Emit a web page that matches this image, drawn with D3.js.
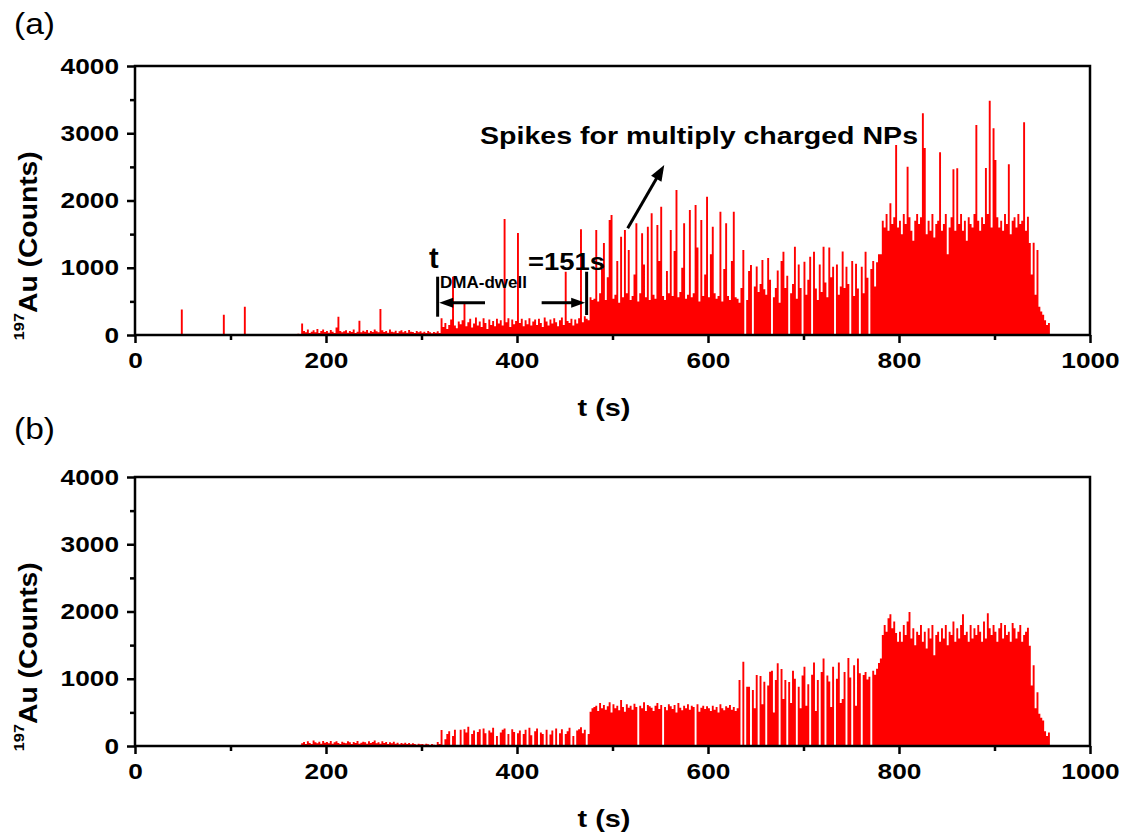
<!DOCTYPE html>
<html lang="en">
<head>
<meta charset="utf-8">
<title>197Au counts vs time</title>
<style>
  body { margin: 0; background: #fff; }
  svg { display: block; font-family: "Liberation Sans", Arial, sans-serif; }
</style>
</head>
<body>
<svg id="chart" width="1130" height="839"></svg>
<script src="https://d3js.org/d3.v7.min.js"></script>
<script>
const binSize = 2; // seconds per bar

// panel (a): counts per 2 s bin
const a000 = [10,5,0,8,12,0,6,10,4,0, 8,0,12,6,0,10,4,8,0,6, 10,4,0,8,380,6,0,12,4,8, 0,6,10,0,8,4,12,0,6,10,
  4,0,8,12,6,0,300,10,4,8, 6,12,0,8,4,0,10,420,6,0, 8,10,4,0,12,6,8,0,10,4, 6,0,12,8,4,10,0,6,8,12,
  4,10,0,8,12,20,10,170,60,40, 80,30,50,70,40,90,30,60,80,45];
const a200 = [60,35,75,50,30,110,272,60,40,55, 70,35,60,45,80,30,50,213,40,65, 50,75,35,60,45,80,55,40,387,70,
  45,60,35,80,50,40,65,30,55,70, 40,60,35,75,50,45,30,60,40,55, 35,50,30,60,40,25,45,35,55,30,
  250,120,180,90,150,230,867,140,100,200, 160,220,476,130,190,240,110,170,260,140,
  200,120,250,180,90,230,150,210,130,240, 170,220,140,1725,190,250,120,230,160,210];
const a400 = [1516,180,240,130,220,160,250,140,200,230, 150,240,180,120,260,200,140,230,170,250,
  190,130,220,260,150,941,210,180,240,140, 230,170,250,1572,190,280,240,220,560,520,
  540,1561,500,620,980,1368,520,860,1710,1784, 540,600,1100,480,1462,560,1561,620,1264,520,
  580,900,1660,500,620,1512,1050,560,1610,520, 1809,600,540,1636,1100,1908,580,520,950,620,
  1561,580,1250,2156,560,640,1000,1660,540,600, 1859,560,620,1933,1300,500,1710,580,900,2057];
const a600 = [560,1200,1610,620,540,580,1834,500,980,1660, 580,520,1100,1834,560,540,480,700,1264,0,
  520,950,1041,0,720,1020,640,760,1115,680, 600,1145,820,0,560,700,960,480,1100,1239,
  700,880,0,620,760,1313,540,1050,700,0, 1090,600,820,1164,0,1239,690,520,1050,640,
  1313,780,560,1300,860,1016,0,1050,600,720, 1240,700,1016,760,0,1100,580,1060,690,0,
  1016,620,1239,850,0,980,1100,720,1080,1200, 1200,1700,1600,1800,1550,1958,1650,1750,2825,1600];
const a800 = [1700,1500,1800,1650,2503,1750,1550,1400,1700,1800, 1650,1750,3297,2780,1500,1700,1550,1800,1450,1650,
  1700,2717,1550,1650,1800,1200,1600,1750,2463,1550, 2478,1650,1800,1550,1700,1400,1750,1650,1600,1800,
  3123,1700,1550,1750,1650,2483,1800,3484,1600,3073, 2602,1750,1600,1700,1550,1800,1650,2538,1500,1700,
  1750,1600,1800,1650,1700,3162,1550,1760,1368,900, 1370,600,1264,420,350,300,220,150,180,0,
  8,0,10,5,0,12,6,0,8,4, 0,10,6,0,8,12,0,5,10,0];

// panel (b)
const b000 = [5,0,8,3,0,6,2,0,5,4, 0,6,3,0,8,2,5,0,4,7, 3,0,6,4,0,8,2,5,0,6, 4,7,0,3,6,0,5,2,8,0,
  6,0,4,8,2,0,7,3,0,5, 2,6,0,5,3,8,0,4,6,0, 7,0,3,6,0,4,8,2,0,5, 0,5,7,0,4,2,6,0,3,8,
  5,0,8,4,10,6,0,40,60,30, 70,45,30,80,55,40,65,35,75,50];
const b200 = [60,40,75,35,55,70,45,30,65,50, 40,70,55,30,60,45,75,35,50,65, 55,35,70,45,60,80,40,55,35,70,
  45,60,30,55,40,65,35,50,25,45, 35,50,30,45,25,40,30,20,35,25, 30,20,35,25,15,30,20,0,60,30,
  238,0,100,180,220,0,150,240,0,0, 240,0,250,200,285,0,180,230,0,210,
  250,0,260,190,0,230,200,270,0,150, 0,200,240,260,0,180,0,250,210,0];
const b400 = [190,230,0,180,240,0,270,160,0,220, 260,0,200,180,0,240,0,170,230,0,
  260,0,190,250,0,180,220,270,0,150, 0,230,250,280,190,240,0,180,510,560,
  580,600,520,640,560,610,540,590,650,500, 620,560,600,530,684,580,510,620,570,600,
  540,630,580,0,600,560,650,520,610,590, 570,520,600,640,550,610,0,580,530,620,
  590,550,610,500,640,570,530,600,560,620, 540,600,580,0,620,510,570,600,550,590];
const b600 = [560,520,600,540,580,500,620,560,530,590, 570,610,540,580,520,560,981,0,1254,0,
  880,882,0,833,560,1056,0,1040,620,956, 0,900,1105,1120,500,980,1230,0,1145,700,
  981,0,950,640,1120,1000,0,880,560,1050, 1180,600,920,0,1060,1240,520,980,0,1100,
  1300,0,1050,960,580,1180,0,1000,1240,640, 700,1100,0,1308,1020,0,1200,600,1300,1080,
  0,1056,1100,990,1030,0,1120,1060,1150,1234, 1300,1650,1800,1700,1900,1958,1750,1850,1680,1550];
const b800 = [1700,1550,1800,1650,1850,1993,1600,1750,1500,1700, 1650,1800,1550,1700,1450,1750,1600,1800,1350,1650,
  1700,1550,1750,1600,1800,1500,1700,1650,1850,1550, 1750,1600,1800,1958,1650,1700,1550,1800,1600,1750,
  1650,1800,1700,1550,1850,1600,1973,1750,1650,1800, 1700,1550,1750,1829,1600,1800,1650,1700,1550,1829,
  1750,1600,1700,1800,1550,1650,1700,1760,1490,900, 1200,560,800,480,420,380,220,150,200,0,
  4,0,6,3,0,5,2,0,4,3, 0,5,3,0,6,2,0,4,5,0];

const xTicks = [0, 200, 400, 600, 800, 1000];
const xMinor = [100, 300, 500, 700, 900];
const yTicks = [0, 1000, 2000, 3000, 4000];
const yMinor = [500, 1500, 2500, 3500];

const svg = d3.select("#chart");
const x = d3.scaleLinear().domain([0, 1000]).range([135, 1090]);
const plotH = 269;
const y = d3.scaleLinear().domain([0, 4000]).range([plotH, 0]);

const panels = [
  {label: "(a)", top: 66, labelY: 34, values: [].concat(a000, a200, a400, a600, a800)},
  {label: "(b)", top: 477, labelY: 439, values: [].concat(b000, b200, b400, b600, b800)}
];

// one step per 2 s bin, so adjacent bars join without seams
const bars = d3.area()
  .curve(d3.curveStepAfter)
  .x(d => x(d.t))
  .y0(y(0))
  .y1(d => y(d.v));

function arrow(g, x1, y1, x2, y2, len, half) {
  const dx = x2 - x1, dy = y2 - y1, L = Math.hypot(dx, dy);
  const ux = dx / L, uy = dy / L;
  const bx = x2 - ux * len, by = y2 - uy * len;
  g.append("line").attr("x1", x1).attr("y1", y1).attr("x2", bx + ux).attr("y2", by + uy)
    .attr("stroke", "#000").attr("stroke-width", 3);
  g.append("path")
    .attr("d", `M${x2},${y2}L${bx - uy * half},${by + ux * half}L${bx + uy * half},${by - ux * half}Z`)
    .attr("fill", "#000");
}

panels.forEach((p, pi) => {
  svg.append("text").attr("x", 14).attr("y", p.labelY)
    .attr("font-size", 30).attr("textLength", 41).attr("lengthAdjust", "spacingAndGlyphs")
    .text(p.label);

  const g = svg.append("g").attr("transform", `translate(0,${p.top})`);

  const pts = p.values.map((v, i) => ({t: i * binSize, v}));
  pts.push({t: pts.length * binSize, v: 0});
  g.append("path").datum(pts).attr("d", bars).attr("fill", "#ff0000");

  // frame
  g.append("rect")
    .attr("x", x(0)).attr("y", y(4000))
    .attr("width", x(1000) - x(0)).attr("height", y(0) - y(4000))
    .attr("fill", "none").attr("stroke", "#000").attr("stroke-width", 2.5);

  g.append("g").attr("transform", `translate(0,${plotH})`)
    .call(d3.axisBottom(x).tickValues(xTicks).tickFormat(d3.format("d")).tickSize(8).tickPadding(9));
  g.append("g").attr("transform", `translate(0,${plotH})`)
    .call(d3.axisBottom(x).tickValues(xMinor).tickSize(5).tickFormat(""));
  g.append("g").attr("transform", `translate(${x(0)},0)`)
    .call(d3.axisLeft(y).tickValues(yTicks).tickFormat(d3.format("d")).tickSize(8).tickPadding(8));
  g.append("g").attr("transform", `translate(${x(0)},0)`)
    .call(d3.axisLeft(y).tickValues(yMinor).tickSize(5).tickFormat(""));

  g.selectAll(".domain").remove();
  g.selectAll(".tick line").attr("stroke", "#000").attr("stroke-width", 2.5);
  g.selectAll(".tick text")
    .attr("fill", "#000")
    .attr("font-family", "'Liberation Sans', Arial, sans-serif")
    .attr("font-size", 22).attr("font-weight", "bold")
    .attr("textLength", d => String(d).length * 14.6)
    .attr("lengthAdjust", "spacingAndGlyphs");

  // axis titles
  g.append("text")
    .attr("x", 604).attr("y", plotH + 81)
    .attr("text-anchor", "middle").attr("font-size", 24).attr("font-weight", "bold")
    .attr("textLength", 53).attr("lengthAdjust", "spacingAndGlyphs")
    .text("t (s)");

  const yt = g.append("text")
    .attr("transform", `translate(37,${y(1000) - 22}) rotate(-90)`)
    .attr("text-anchor", "middle").attr("font-weight", "bold").attr("font-size", 26)
    .attr("textLength", 189).attr("lengthAdjust", "spacingAndGlyphs");
  yt.append("tspan").attr("font-size", 15).attr("dy", -13).text("197");
  yt.append("tspan").attr("dy", 13).text("Au (Counts)");

  if (pi === 0) {
    // annotations, in data units
    const ann = g.append("g");
    ann.append("text").attr("x", x(361.3)).attr("y", y(2840))
      .attr("font-size", 23).attr("font-weight", "bold")
      .attr("textLength", 438).attr("lengthAdjust", "spacingAndGlyphs")
      .text("Spikes for multiply charged NPs");
    arrow(ann, x(515.9), y(1587), x(554.2), y(2528), 16, 6);

    ann.append("text").attr("x", x(307.9)).attr("y", y(996))
      .attr("font-size", 29).attr("font-weight", "bold").text("t");
    ann.append("text").attr("x", x(319.4)).attr("y", y(699))
      .attr("font-size", 17).attr("font-weight", "bold")
      .attr("textLength", 87).attr("lengthAdjust", "spacingAndGlyphs").text("DMA-dwell");
    ann.append("text").attr("x", x(411.5)).attr("y", y(967))
      .attr("font-size", 24).attr("font-weight", "bold")
      .attr("textLength", 77).attr("lengthAdjust", "spacingAndGlyphs").text("=151s");

    ann.append("line").attr("x1", x(316.9)).attr("x2", x(316.9))
      .attr("y1", y(867)).attr("y2", y(272)).attr("stroke", "#000").attr("stroke-width", 3);
    ann.append("line").attr("x1", x(472.9)).attr("x2", x(472.9))
      .attr("y1", y(941)).attr("y2", y(297)).attr("stroke", "#000").attr("stroke-width", 3);
    arrow(ann, x(366.5), y(480), x(318.5), y(480), 14, 5);
    arrow(ann, x(425.8), y(480), x(471.4), y(480), 14, 5);
  }
});
</script>
</body>
</html>
